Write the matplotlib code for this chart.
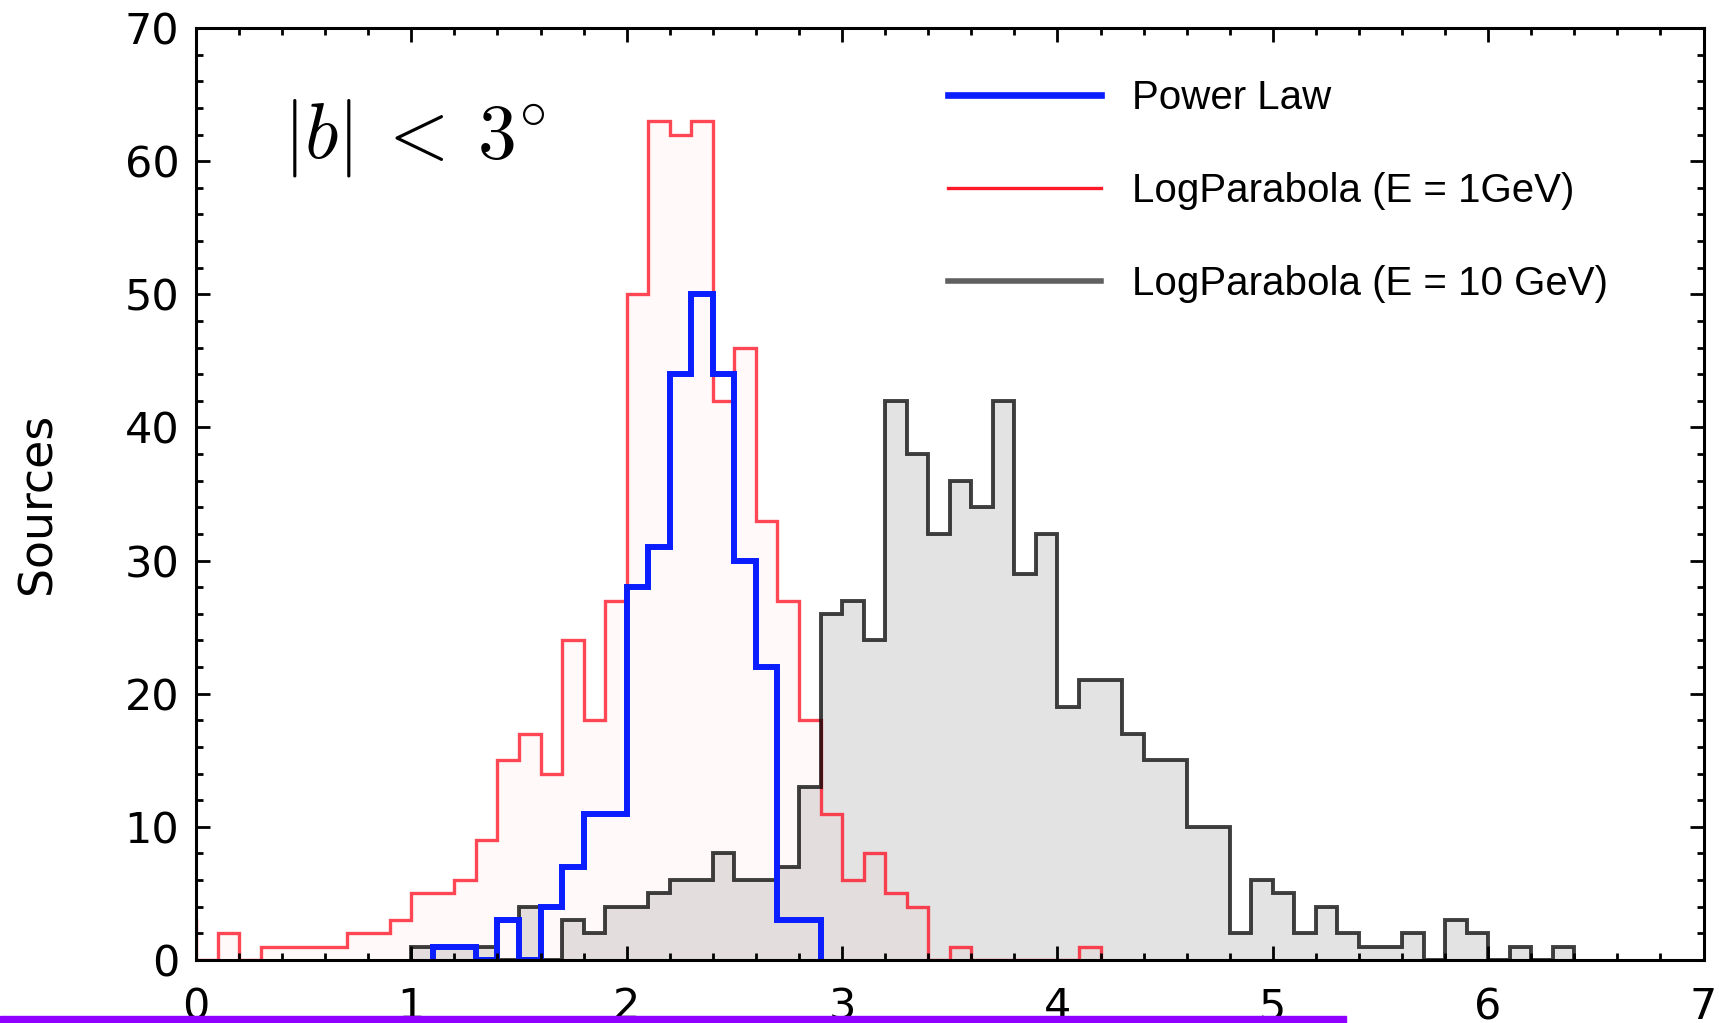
import matplotlib

matplotlib.use("Agg")
import matplotlib.pyplot as plt
import numpy as np
from matplotlib.lines import Line2D
from matplotlib.patches import Rectangle
from matplotlib.ticker import MultipleLocator

plt.rcParams["mathtext.fontset"] = "cm"

BIN_WIDTH = 0.1

# counts per 0.1 bin, each list starts at its own lower bin edge
LP1_START = -0.1
LP1_COUNTS = [3, 0, 2, 0, 1, 1, 1, 1, 2, 2,
              3, 5, 5, 6, 9, 15, 17, 14, 24, 18,
              27, 50, 63, 62, 63, 42, 46, 33, 27, 18,
              11, 6, 8, 5, 4, 0, 1, 0, 0, 0,
              0, 0, 1]

PL_START = 1.1
PL_COUNTS = [1, 1, 0, 3, 0, 4, 7, 11, 11, 28,
             31, 44, 50, 44, 30, 22, 3, 3]

LP10_START = 1.0
LP10_COUNTS = [1, 1, 1, 1, 0, 4, 0, 3, 2, 4,
               4, 5, 6, 6, 8, 6, 6, 7, 13, 26,
               27, 24, 42, 38, 32, 36, 34, 42, 29, 32,
               19, 21, 21, 17, 15, 15, 10, 10, 2, 6,
               5, 2, 4, 2, 1, 1, 2, 0, 3, 2,
               0, 1, 0, 1]

LABELS = ["Power Law", "LogParabola (E = 1GeV)", "LogParabola (E = 10 GeV)"]


def edges(start, counts):
    return np.round(start + BIN_WIDTH * np.arange(len(counts) + 1), 2)


fig = plt.figure(figsize=(17.19, 10.23), dpi=100)
ax = fig.add_axes([0.114, 0.0616, 0.877, 0.911])

e1 = edges(LP1_START, LP1_COUNTS)
epl = edges(PL_START, PL_COUNTS)
e10 = edges(LP10_START, LP10_COUNTS)

ax.stairs(LP1_COUNTS, e1, fill=True, color="red", alpha=0.025, lw=0)
ax.stairs(LP10_COUNTS, e10, fill=True, color="black", alpha=0.11, lw=0)
ax.stairs(LP1_COUNTS, e1, color="#ff0a1e", alpha=0.75, lw=2.4)
ax.stairs(LP10_COUNTS, e10, color="black", alpha=0.75, lw=2.8)
ax.stairs(PL_COUNTS, epl, color="#0a1eff", lw=4.3)

ax.set_xlim(0, 7)
ax.set_ylim(0, 70)
ax.xaxis.set_major_locator(MultipleLocator(1))
ax.xaxis.set_minor_locator(MultipleLocator(0.2))
ax.yaxis.set_major_locator(MultipleLocator(10))
ax.yaxis.set_minor_locator(MultipleLocator(2))
ax.tick_params(which="both", direction="in", top=True, right=True, width=2,
               labelsize=31)
ax.tick_params(which="major", length=10)
ax.tick_params(which="minor", length=5)
ax.tick_params(axis="x", pad=19)
ax.tick_params(axis="y", pad=12)
for s in ax.spines.values():
    s.set_linewidth(2.2)

ax.set_ylabel("Sources", fontsize=33)
ax.yaxis.set_label_coords(-0.090, 0.49)

ax.text(0.058, 0.861, r"$|b|\:<\:3^{\circ}$", transform=ax.transAxes,
        fontsize=56, va="baseline", ha="left")

handles = [
    Line2D([], [], color="#0a1eff", lw=4.8),
    Line2D([], [], color="#ff1a2a", lw=2.4),
    Line2D([], [], color="#606060", lw=4.0),
]
leg = ax.legend(handles, LABELS, loc="upper left", bbox_to_anchor=(0.499, 0.945),
                frameon=False, borderpad=0, borderaxespad=0, handlelength=3.8,
                handletextpad=0.75, labelspacing=1.36,
                prop={"family": "Liberation Sans", "size": 29})

fig.patches.append(Rectangle((0, 0), 1346 / 1719, 7 / 1023, transform=fig.transFigure,
                             color="#9000ff", zorder=10))

fig.savefig("out.png", dpi=100)
plt.close(fig)
